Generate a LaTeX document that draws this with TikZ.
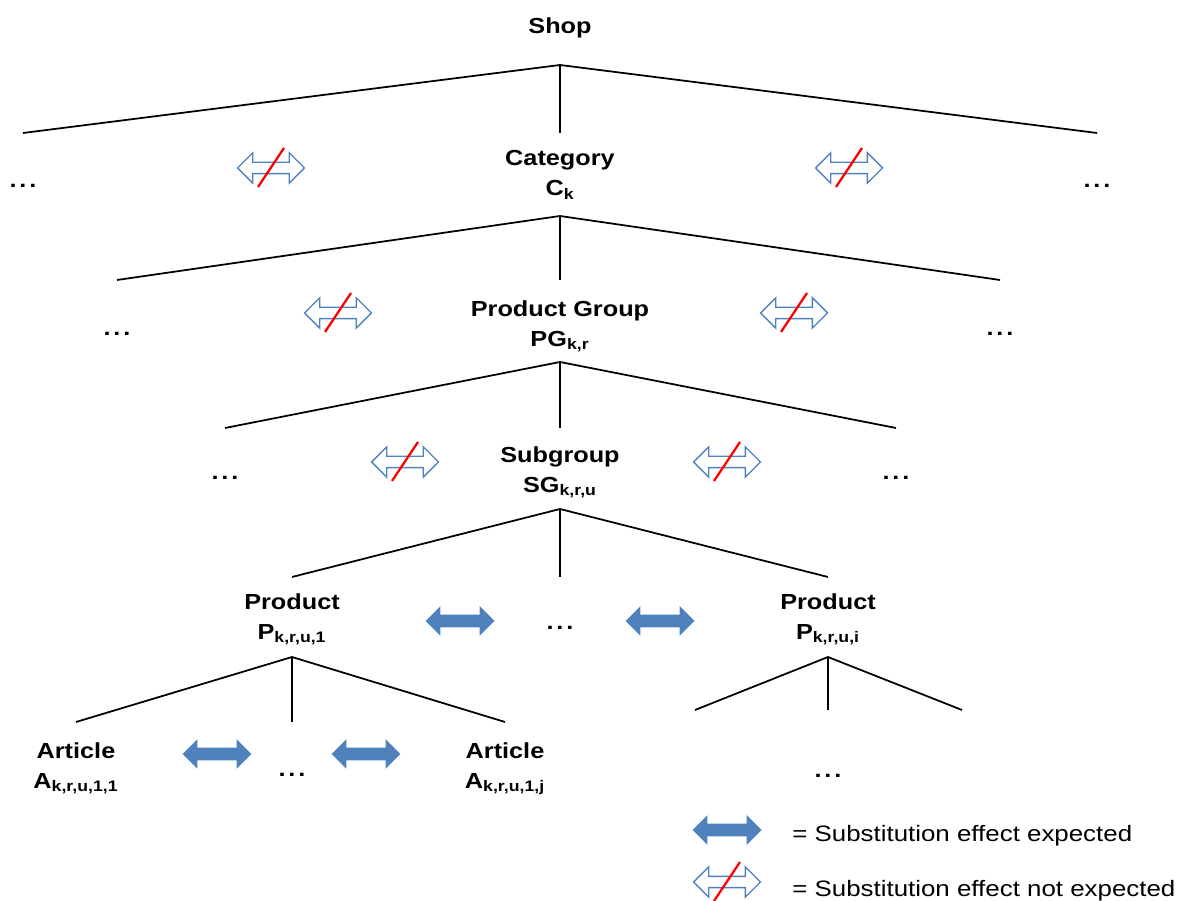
\documentclass[tikz,border=0pt]{standalone}
\usepackage{fontspec}
\setmainfont{Liberation Sans}[FakeStretch=1.16]
\usetikzlibrary{shapes.arrows,positioning}
\definecolor{subblue}{HTML}{4F81BD}
\newcommand{\moredots}{.\kern1.6pt.\kern1.6pt.}
\tikzset{%
  level label/.style={
    font=\fontsize{12.4}{17}\selectfont\bfseries,
    align=center,
    inner sep=0pt,
    anchor=north
  },
  more dots/.style={
    font=\fontsize{12.4}{17}\selectfont\bfseries,
    inner sep=0pt,
    anchor=base
  },
  legend text/.style={
    font=\fontsize{12.7}{17}\selectfont,
    inner sep=0pt,
    anchor=base west
  },
  branch/.style={line width=1pt},
  effect arrow/.style={
    double arrow, fill=subblue, draw=none,
    minimum height=1.38cm, inner sep=0.12cm,
    double arrow head extend=0.17cm
  },
  no effect arrow/.style={
    double arrow, draw=subblue, fill=white, line width=0.8pt,
    minimum height=1.34cm, inner sep=0.1cm,
    double arrow head extend=0.19cm
  },
  strike/.style={red, line width=1.3pt},
}

\begin{document}
\begin{tikzpicture}[x=0.02cm,y=-0.02cm]
\useasboundingbox (0,0) rectangle (1187,901);

% labels of the hierarchy
\node[level label] (shop)     at (560,17)  {Shop};
\node[level label] (category) at (560,150) {Category\\C\textsubscript{k}};
\node[level label] (pgroup)   at (560,300) {Product Group\\PG\textsubscript{k,r}};
\node[level label] (sgroup)   at (560,446) {Subgroup\\SG\textsubscript{k,r,u}};
\node[level label] (prod1)    at (292,593) {Product\\P\textsubscript{k,r,u,1}};
\node[level label] (prodi)    at (828,593) {Product\\P\textsubscript{k,r,u,i}};
\node[level label] (art1)     at (76,742)  {Article\\A\textsubscript{k,r,u,1,1}};
\node[level label] (artj)     at (505,742) {Article\\A\textsubscript{k,r,u,1,j}};

% the other siblings
\node[more dots] (dots1l) at (23,188)  {\moredots};
\node[more dots] (dots1r) at (1097,188) {\moredots};
\node[more dots] (dots2l) at (117,336) {\moredots};
\node[more dots] (dots2r) at (1000,336) {\moredots};
\node[more dots] (dots3l) at (225,480) {\moredots};
\node[more dots] (dots3r) at (896,480) {\moredots};
\node[more dots] (dots4)  at (560,630) {\moredots};
\node[more dots] (dots5)  at (292,777) {\moredots};
\node[more dots] (dots6)  at (828,778) {\moredots};

% branches
\foreach \i/\ax/\ay/\lx/\rx/\ey in {0/560/65/23/1097/133,
                                   1/560/216/117/1000/280,
                                   2/560/362/225/896/428,
                                   3/560/509/292/828/577,
                                   4/292/657/76/505/722,
                                   5/828/657/695/962/710}{
  \coordinate (apex\i) at (\ax,\ay);
  \coordinate (left\i) at (\lx,\ey);
  \coordinate (mid\i) at (\ax,\ey);
  \coordinate (right\i) at (\rx,\ey);
  \draw[branch] (left\i) -- (apex\i) -- (right\i) (apex\i) -- (mid\i);
}

% substitution effects
\node[effect arrow] (sub1) at (460,621) {};
\node[effect arrow] (sub2) at (660,621) {};
\node[effect arrow] (sub3) at (217,754) {};
\node[effect arrow] (sub4) at (366,754) {};

\node[no effect arrow] (nosub1l) at (271,168) {};
\node[no effect arrow] (nosub1r) at (849,168) {};
\node[no effect arrow] (nosub2l) at (338,313) {};
\node[no effect arrow] (nosub2r) at (794,313) {};
\node[no effect arrow] (nosub3l) at (405,462) {};
\node[no effect arrow] (nosub3r) at (727,462) {};

% legend
\node[effect arrow] (keysub) at (727,830) {};
\node[no effect arrow] (keynosub) at (727,882) {};
\node[legend text] (keysubtext)   at (792,842) {= Substitution effect expected};
\node[legend text] (keynosubtext) at (792,896) {= Substitution effect not expected};

\foreach \n in {nosub1l,nosub1r,nosub2l,nosub2r,nosub3l,nosub3r,keynosub}
  \draw[strike] ([shift={(-0.26cm,-0.38cm)}]\n.center) -- ([shift={(0.26cm,0.4cm)}]\n.center);
\end{tikzpicture}
\end{document}
